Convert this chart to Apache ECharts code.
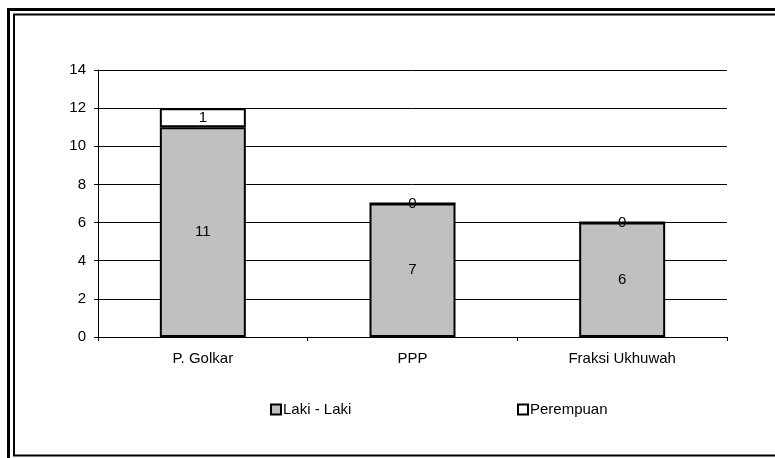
<!DOCTYPE html>
<html>
<head>
<meta charset="utf-8">
<script src="https://cdn.jsdelivr.net/npm/echarts@6/dist/echarts.min.js"></script>
<style>html,body{margin:0;padding:0;background:#fff}#c{width:775px;height:458px}</style>
</head>
<body>
<div id="c"></div>
<script>
var categories = ['P. Golkar', 'PPP', 'Fraksi Ukhuwah'];
var lakiLaki = [11, 7, 6];
var perempuan = [1, 0, 0];
var yTicks = [0, 2, 4, 6, 8, 10, 12, 14];

var chart = echarts.init(document.getElementById('c'));
var font = 'Liberation Sans, Arial, sans-serif';
var labelStyle = { show: true, position: 'inside', color: '#000', fontSize: 15, fontFamily: font };
chart.setOption({
  animation: false,
  grid: { left: 98, right: 48, top: 70, bottom: 121, containLabel: false },
  legend: [
    { data: ['Laki - Laki'], left: 265, top: 397, icon: 'rect', itemWidth: 10, itemHeight: 10,
      textStyle: { fontSize: 15, fontFamily: font, color: '#000', padding: [0, 0, 0, -3] } },
    { data: ['Perempuan'], left: 512, top: 397, icon: 'rect', itemWidth: 10, itemHeight: 10,
      textStyle: { fontSize: 15, fontFamily: font, color: '#000', padding: [0, 0, 0, -3] } }
  ],
  xAxis: {
    type: 'category', data: categories,
    axisLine: { lineStyle: { color: '#000', width: 1 } },
    axisTick: { show: true, length: 4, alignWithLabel: false, lineStyle: { color: '#000' } },
    axisLabel: { color: '#000', fontSize: 15, fontFamily: font, margin: 14 }
  },
  yAxis: {
    type: 'value', min: yTicks[0], max: yTicks[yTicks.length - 1], interval: 2,
    axisLine: { show: true, lineStyle: { color: '#000', width: 1 } },
    axisTick: { show: true, length: 4, lineStyle: { color: '#000' } },
    axisLabel: { color: '#000', fontSize: 15, fontFamily: font, margin: 12 },
    splitLine: { show: true, lineStyle: { color: '#000', width: 1 } }
  },
  series: [
    { name: 'Laki - Laki', type: 'bar', stack: 's', data: lakiLaki, barWidth: 86,
      itemStyle: { color: '#C0C0C0', borderColor: '#000', borderWidth: 2 }, label: labelStyle },
    { name: 'Perempuan', type: 'bar', stack: 's', data: perempuan, barWidth: 86,
      itemStyle: { color: '#FFFFFF', borderColor: '#000', borderWidth: 2 }, label: labelStyle }
  ],
  graphic: [
    { type: 'rect', shape: { x: 8.5, y: 9.5, width: 800, height: 480 }, style: { fill: null, stroke: '#000', lineWidth: 3 }, silent: true },
    { type: 'rect', shape: { x: 14, y: 14.5, width: 800, height: 441 }, style: { fill: null, stroke: '#000', lineWidth: 2 }, silent: true }
  ]
});
</script>
</body>
</html>
